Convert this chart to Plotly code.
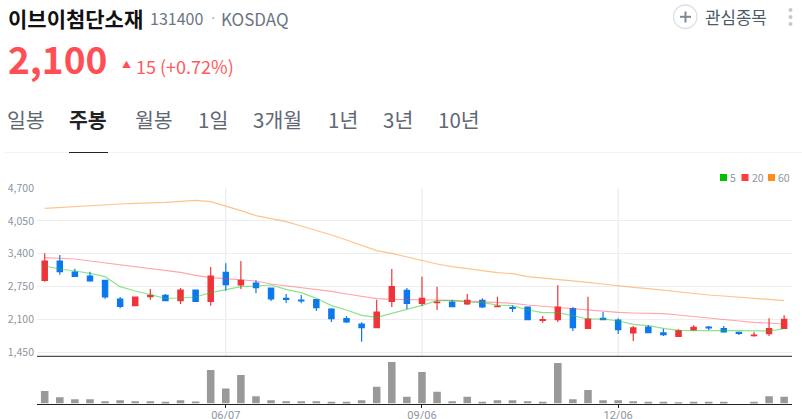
import plotly.graph_objects as go

weeks = ["03/15","03/22","03/29","04/05","04/12","04/19","04/26","05/03","05/10","05/17","05/24","05/31",
         "06/07","06/14","06/21","06/28","07/05","07/12","07/19","07/26","08/02","08/09","08/16","08/23","08/30",
         "09/06","09/13","09/20","09/27","10/04","10/11","10/18","10/25","11/01","11/08","11/15","11/22","11/29",
         "12/06","12/13","12/20","12/27","01/03","01/10","01/17","01/24","01/31","02/07","02/14","02/21"]
opens = [2871,3254,3036,2957,2871,2502,2370,2548,2574,2469,2680,2456,3030,2779,2819,2720,2515,2482,2489,2304,
         2112,2007,1934,2456,2673,2416,2429,2442,2403,2475,2350,2330,2343,2079,2093,2310,1921,2119,2086,1829,
         1947,1829,1763,1888,1947,1914,1842,1776,1815,1921]
highs = [3406,3373,3102,3043,2878,2541,2548,2700,2601,2720,2680,3135,3208,3254,2871,2720,2601,2581,2502,2317,
         2165,2040,2489,3096,2720,2944,2746,2489,2601,2515,2548,2376,2343,2165,2772,2343,2548,2244,2119,1967,
         1987,1914,1901,1980,1967,1967,1842,1848,2119,2178]
lows = [2845,2984,2944,2845,2508,2317,2370,2489,2469,2403,2449,2370,2667,2700,2614,2462,2423,2416,2264,2046,
        2027,1657,1934,2343,2304,2363,2284,2343,2383,2324,2343,2244,2086,2033,2046,1868,1908,2086,1809,1670,
        1829,1769,1756,1875,1888,1835,1789,1756,1769,1908]
closes = [3254,3043,2951,2858,2541,2357,2541,2574,2469,2680,2456,2957,2786,2871,2726,2502,2495,2462,2330,2112,
          2046,1934,2244,2746,2416,2515,2442,2350,2475,2343,2363,2317,2093,2093,2343,1934,2106,2093,1895,1928,
          1835,1796,1875,1941,1928,1848,1822,1789,1914,2100]
ma5 = [3155,3096,3056,3010,2944,2746,2660,2581,2515,2522,2541,2627,2680,2746,2759,2779,2693,2627,2515,2370,
       2284,2178,2139,2218,2284,2376,2469,2469,2442,2429,2383,2370,2284,2231,2231,2165,2106,2106,2066,2000,
       1974,1921,1881,1875,1881,1875,1875,1875,1868,1914]
ma20 = [3320,3307,3294,3254,3215,3175,3142,3109,3069,3030,2970,2924,2904,2878,2858,2799,2766,2733,2700,2654,
        2601,2548,2508,2495,2495,2489,2482,2475,2462,2449,2436,2416,2383,2357,2343,2310,2284,2264,2238,2225,
        2218,2211,2185,2152,2126,2093,2066,2040,2020,2007]
ma60 = [4297,4317,4337,4356,4376,4383,4396,4403,4416,4436,4455,4429,4343,4251,4152,4092,4033,3947,3861,3769,
        3670,3564,3459,3406,3333,3274,3195,3142,3096,3063,3023,3003,2944,2918,2885,2858,2832,2799,2759,2733,
        2706,2673,2640,2607,2581,2561,2535,2515,2495,2469]
volume = [37,19,13,13,7,10,7,7,5,10,6,100,45,85,22,10,7,7,7,5,5,10,50,124,20,94,35,7,20,5,10,10,7,5,121,13,40,
          10,10,7,5,5,3,5,5,5,0,5,22,20]
price_ticks = [1450,2100,2750,3400,4050,4700]
date_ticks = ["06/07","09/06","12/06"]
legend_names = ["5","20","60"]

W, H = 802, 419
RED, BLUE = "#ef3338", "#0b78ee"
FONT = "Noto Sans CJK KR"
GRAY = "#8b95a1"
px = lambda v: v / W
py = lambda v: 1 - v / H

fig = go.Figure()
for vals, col in ((ma60, "rgba(250,150,50,0.55)"), (ma20, "rgba(255,60,70,0.45)"), (ma5, "rgba(30,200,30,0.5)")):
    fig.add_trace(go.Scatter(x=weeks, y=vals, mode="lines", line=dict(color=col, width=1.2),
                             xaxis="x", yaxis="y", showlegend=False, hoverinfo="skip"))
fig.add_trace(go.Candlestick(x=weeks, open=opens, high=highs, low=lows, close=closes, xaxis="x", yaxis="y",
                             increasing=dict(line=dict(color=RED, width=1.2), fillcolor=RED),
                             decreasing=dict(line=dict(color=BLUE, width=1.2), fillcolor=BLUE),
                             whiskerwidth=0, showlegend=False))
fig.add_trace(go.Bar(x=weeks, y=volume, width=0.5, marker=dict(color="#999999", line=dict(width=0)),
                     xaxis="x2", yaxis="y2", showlegend=False))

shapes = [
    dict(type="line", xref="paper", yref="paper", x0=px(5), x1=px(802), y0=py(152.5), y1=py(152.5),
         line=dict(color="#f2f3f5", width=1)),
    dict(type="line", xref="paper", yref="paper", x0=px(69), x1=px(108), y0=py(152.5), y1=py(152.5),
         line=dict(color="#222222", width=1)),
    dict(type="circle", xref="paper", yref="paper", x0=px(673.5), x1=px(697), y0=py(28.5), y1=py(5),
         line=dict(color="#dcdfe4", width=1.3)),
    dict(type="line", xref="paper", yref="paper", x0=px(680), x1=px(691), y0=py(16.8), y1=py(16.8),
         line=dict(color="#7f8994", width=2)),
    dict(type="line", xref="paper", yref="paper", x0=px(685.5), x1=px(685.5), y0=py(11.5), y1=py(22.5),
         line=dict(color="#7f8994", width=2)),
]
for cy in (10, 17, 24):
    shapes.append(dict(type="circle", xref="paper", yref="paper", x0=px(788.5), x1=px(792.5),
                       y0=py(cy + 2), y1=py(cy - 2), fillcolor="#c4c9d0", line=dict(width=0)))
for x0, col in ((720, "#00c000"), (741.5, "#ff3b3b"), (768, "#ff8c1a")):
    shapes.append(dict(type="rect", xref="paper", yref="paper", x0=px(x0), x1=px(x0 + 7),
                       y0=py(181), y1=py(174), fillcolor=col, line=dict(width=0)))
for t in date_ticks:
    shapes.append(dict(type="line", xref="x", yref="paper", x0=t, x1=t, y0=py(356), y1=py(188),
                       line=dict(color="#e6e8ec", width=1), layer="below"))

def note(x, y, text, size, color, bold=False, anchor="left"):
    return dict(xref="paper", yref="paper", x=px(x), y=py(y), text=f"<b>{text}</b>" if bold else text,
                showarrow=False, xanchor=anchor, yanchor="middle", borderpad=0,
                font=dict(family=FONT, size=size, color=color))

notes = [
    note(7, 18, "이브이첨단소재", 21, "#111111", True),
    note(149, 18, "131400", 16, "#6b7684"),
    note(208, 17, "·", 15, "#b0b8c1"),
    note(220, 18, "KOSDAQ", 17, "#6b7684"),
    note(7, 58, "2,100", 37, "#ff4f55", True),
    note(121, 64, "▲", 9, "#ff4f55"),
    note(135, 66, "15 (+0.72%)", 18, "#ff5a60"),
    note(6, 119, "일봉", 20.5, "#5f6873"),
    note(68, 119, "주봉", 20.5, "#222222", True),
    note(134, 119, "월봉", 20.5, "#5f6873"),
    note(197, 119, "1일", 20.5, "#5f6873"),
    note(252, 119, "3개월", 20.5, "#5f6873"),
    note(327, 119, "1년", 20.5, "#5f6873"),
    note(382, 119, "3년", 20.5, "#5f6873"),
    note(437, 119, "10년", 20.5, "#5f6873"),
    note(704, 17, "관심종목", 16.8, "#4e5968"),
]
for x, name in zip((729, 751, 777), legend_names):
    notes.append(note(x, 177.5, name, 10.5, GRAY))

fig.update_layout(
    width=W, height=H, margin=dict(l=0, r=0, t=0, b=0, autoexpand=False), autosize=False,
    paper_bgcolor="white", plot_bgcolor="white", boxgap=0.5, bargap=0.5, showlegend=False,
    shapes=shapes, annotations=notes, font=dict(family=FONT),
    xaxis=dict(domain=[px(37), px(792)], type="category", categoryorder="array", categoryarray=weeks,
               range=[-0.51, 49.52], rangeslider=dict(visible=False), showticklabels=False, automargin=False,
               showgrid=False, zeroline=False, anchor="y", ticks=""),
    yaxis=dict(domain=[py(356.3), py(188)], range=[1367, 4700], tickvals=price_ticks, automargin=False,
               ticktext=[f"{v:,}" for v in price_ticks], gridcolor="#eeeeee", gridwidth=1, zeroline=False,
               tickfont=dict(size=10.5, color=GRAY, family=FONT), ticks="", showline=False, anchor="x",
               ticklabelstandoff=2),
    xaxis2=dict(domain=[px(37), px(792)], type="category", categoryorder="array", categoryarray=weeks,
                range=[-0.51, 49.52], tickvals=date_ticks, ticktext=date_ticks, showgrid=False, automargin=False,
                ticks="outside", ticklen=3, tickcolor="#222222", tickwidth=1, ticklabelstandoff=-2,
                tickfont=dict(size=11, color=GRAY, family="Roboto"), showline=True, linecolor="#222222",
                linewidth=1, zeroline=False, anchor="y2", mirror=False),
    yaxis2=dict(domain=[py(403.5), py(356.3)], range=[0, 141], showticklabels=False, showgrid=False,
                zeroline=False, ticks="", anchor="x2", automargin=False),
)
fig.add_shape(type="line", xref="paper", yref="paper", x0=px(37), x1=px(792), y0=py(356.3), y1=py(356.3),
              line=dict(color="#222222", width=1))
fig.write_html("out.html", config=dict(displayModeBar=False),
               post_script="document.body.style.margin='0';document.documentElement.style.overflow='hidden';")
